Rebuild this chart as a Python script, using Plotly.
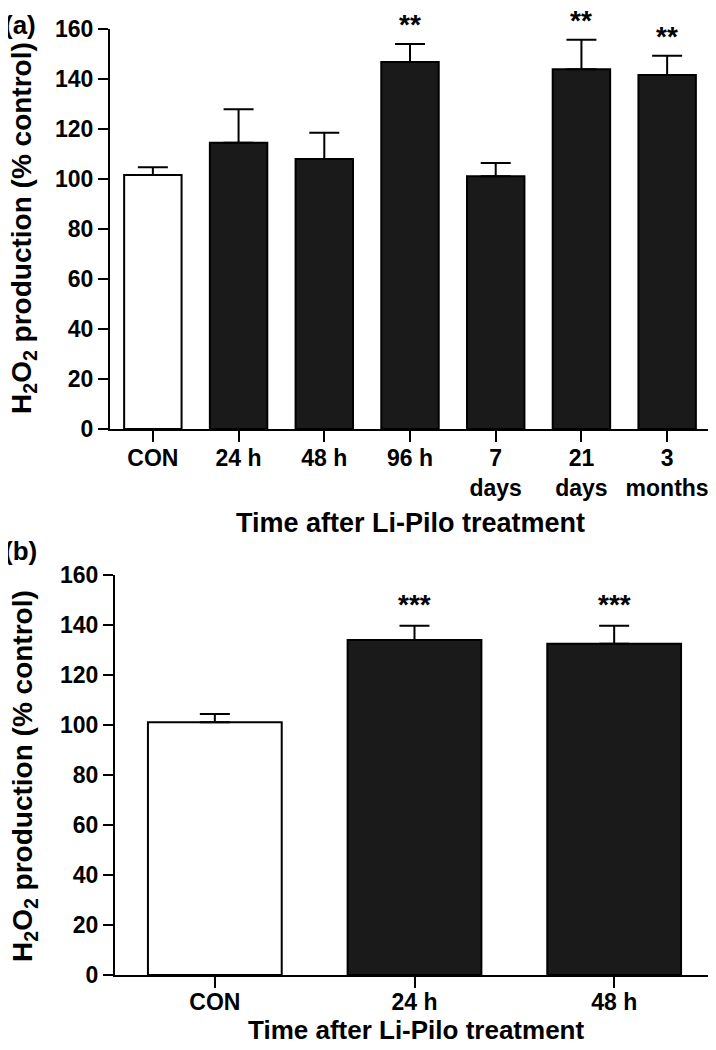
import plotly.graph_objects as go

# Panel (a)
cats_a = ["CON", "24 h", "48 h", "96 h", "7<br>days", "21<br>days", "3<br>months"]
vals_a = [101.6, 114.5, 108.0, 146.8, 101.1, 143.9, 141.6]
err_a = [3.1, 13.4, 10.5, 7.2, 5.3, 11.8, 7.7]
stars_a = ["", "", "", "**", "", "**", "**"]
colors_a = ["white", "#1a1a1a", "#1a1a1a", "#1a1a1a", "#1a1a1a", "#1a1a1a", "#1a1a1a"]

# Panel (b)
cats_b = ["CON", "24 h", "48 h"]
vals_b = [101.1, 134.0, 132.5]
err_b = [3.3, 5.7, 7.2]
stars_b = ["", "***", "***"]
colors_b = ["white", "#1a1a1a", "#1a1a1a"]

y_ticks = [0, 20, 40, 60, 80, 100, 120, 140, 160]
y_title = "H<sub>2</sub>O<sub>2</sub> production (% control)"
x_title = "Time after Li-Pilo treatment"

FONT = "Liberation Sans, Arial, Helvetica, sans-serif"
# page body has an 8px margin; figure is sized to fit inside the window
W, H = 708, 1034
OFF = 8

def py(v):  # window pixel (from top) -> paper y
    return 1 - (v - OFF) / H

def px(v):  # window pixel (from left) -> paper x
    return (v - OFF) / W

fig = go.Figure()

fig.add_trace(go.Bar(
    x=list(range(len(cats_a))), y=vals_a, width=0.67,
    marker=dict(color=colors_a, line=dict(color="black", width=2)),
    error_y=dict(type="data", symmetric=False, array=err_a, arrayminus=[0]*len(err_a),
                 color="black", thickness=2, width=15),
    xaxis="x", yaxis="y", showlegend=False))

fig.add_trace(go.Bar(
    x=list(range(len(cats_b))), y=vals_b, width=0.67,
    marker=dict(color=colors_b, line=dict(color="black", width=2)),
    error_y=dict(type="data", symmetric=False, array=err_b, arrayminus=[0]*len(err_b),
                 color="black", thickness=2, width=15),
    xaxis="x2", yaxis="y2", showlegend=False))

tickfont = dict(family=FONT, size=23, color="black", weight="bold")

def xax(domain, cats, anchor, standoff):
    return dict(domain=domain, anchor=anchor, range=[-0.5, len(cats) - 0.5],
                tickmode="array", tickvals=list(range(len(cats))), ticktext=cats,
                showline=True, linecolor="black", linewidth=2,
                ticks="outside", ticklen=11, tickwidth=2, tickcolor="black",
                ticklabelstandoff=standoff,
                tickfont=tickfont, showgrid=False, zeroline=False, automargin=False)

def yax(domain, anchor):
    return dict(domain=domain, anchor=anchor, range=[0, 160],
                tickmode="array", tickvals=y_ticks,
                showline=True, linecolor="black", linewidth=2,
                ticks="outside", ticklen=10, tickwidth=2, tickcolor="black",
                tickfont=tickfont, showgrid=False, zeroline=False, automargin=False)

fig.update_layout(
    template="none",
    width=W, height=H,
    margin=dict(l=0, r=0, t=0, b=0, autoexpand=False),
    paper_bgcolor="white", plot_bgcolor="white",
    xaxis=xax([px(110), px(710)], cats_a, "y", -4),
    yaxis=yax([py(429), py(29)], "x"),
    xaxis2=xax([px(115), px(714)], cats_b, "y2", -6),
    yaxis2=yax([py(975), py(575)], "x2"),
)

ann = []
for i, s in enumerate(stars_a):
    if s:
        ann.append(dict(x=i, y=vals_a[i] + err_a[i], xref="x", yref="y", text=s,
                        showarrow=False, yanchor="bottom", yshift=2,
                        font=dict(family=FONT, size=28, color="black", weight="bold")))
for i, s in enumerate(stars_b):
    if s:
        ann.append(dict(x=i, y=vals_b[i] + err_b[i], xref="x2", yref="y2", text=s,
                        showarrow=False, yanchor="bottom", yshift=4,
                        font=dict(family=FONT, size=28, color="black", weight="bold")))

# axis titles
for yc in [228, 776]:
    ann.append(dict(x=px(24), y=py(yc), xref="paper", yref="paper", text=y_title,
                    textangle=-90, showarrow=False, xanchor="center", yanchor="middle",
                    font=dict(family=FONT, size=28, color="black", weight="bold")))
ann.append(dict(x=px(410), y=py(523), xref="paper", yref="paper", text=x_title,
                showarrow=False, xanchor="center", yanchor="middle",
                font=dict(family=FONT, size=27, color="black", weight="bold")))
ann.append(dict(x=px(416), y=0, xref="paper", yref="paper", text=x_title,
                showarrow=False, xanchor="center", yanchor="bottom", yshift=-5,
                font=dict(family=FONT, size=26, color="black", weight="bold")))
# panel labels
ann.append(dict(x=px(2), y=1, xref="paper", yref="paper", text="(a)",
                showarrow=False, xanchor="left", yanchor="top",
                font=dict(family=FONT, size=26, color="black", weight="bold")))
ann.append(dict(x=px(2), y=py(551), xref="paper", yref="paper", text="(b)",
                showarrow=False, xanchor="left", yanchor="middle",
                font=dict(family=FONT, size=26, color="black", weight="bold")))

fig.update_layout(annotations=ann)
fig.write_html("out.html")
